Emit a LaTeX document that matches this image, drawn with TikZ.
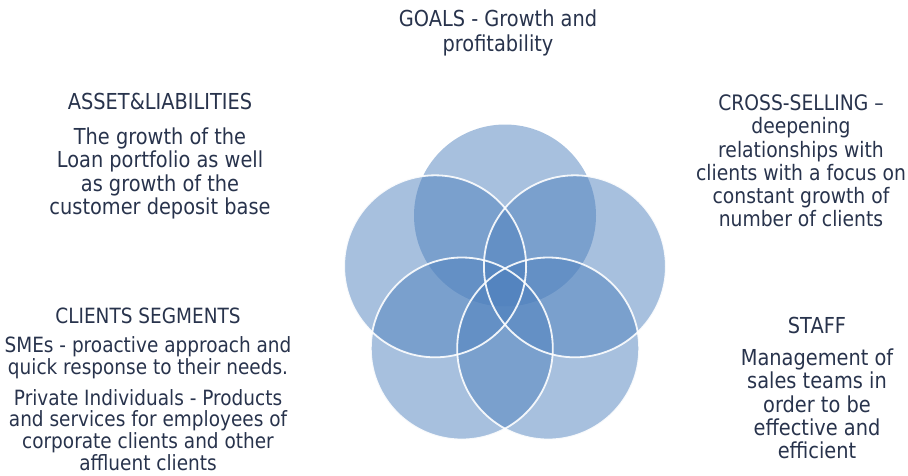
\documentclass[tikz,border=0pt]{standalone}
\usepackage{fontspec}
\setmainfont{DejaVu Sans}[FakeStretch=0.88]
\definecolor{txt}{RGB}{40,51,76}
\definecolor{venn}{RGB}{79,129,189}
\begin{document}
\begin{tikzpicture}[x=1pt,y=-1pt,
  lbl/.style={align=center,text=txt,inner sep=0pt,font=\fontsize{22}{23.3}\selectfont},
  ring/.style={circle,minimum size=182pt,inner sep=0pt,outer sep=0pt,fill=venn,fill opacity=0.5},
  rimline/.style={draw=white,line width=1.8pt,draw opacity=0.9}]
\useasboundingbox (0,0) rectangle (908,475);
% circles
\node[ring] (top)   at (505,215.5) {};
\node[ring] (right) at (574.9,266.3) {};
\node[ring] (br)    at (548.2,348.5) {};
\node[ring] (bl)    at (461.8,348.5) {};
\node[ring] (left)  at (435.1,266.3) {};
\draw[rimline] (right) circle[radius=91];
\draw[rimline] (br) circle[radius=91];
\draw[rimline] (bl) circle[radius=91];
\draw[rimline] (left) circle[radius=91];
% labels
\node[lbl] (goals) at (498,33) {GOALS - Growth and\\[1.7pt]profitability};
\node[lbl] (asset) at (160,156) {ASSET\&LIABILITIES\\[11.7pt]The growth of the\\Loan portfolio as well\\as growth of the\\customer deposit base};
\node[lbl,font=\fontsize{21}{21.7}\selectfont] (clients) at (148,389) {CLIENTS SEGMENTS\\[8pt]SMEs - proactive approach and\\quick response to their needs.\\[9pt]Private Individuals - Products\\and services for employees of\\corporate clients and other\\affluent clients};
\node[lbl,font=\fontsize{21.3}{23.2}\selectfont] (cross) at (801,161) {CROSS-SELLING –\\deepening\\relationships with\\clients with a focus on\\constant growth of\\number of clients};
\node[lbl] (staff) at (817,388) {STAFF\\[9pt]Management of\\sales teams in\\order to be\\effective and\\efficient};
\end{tikzpicture}
\end{document}
